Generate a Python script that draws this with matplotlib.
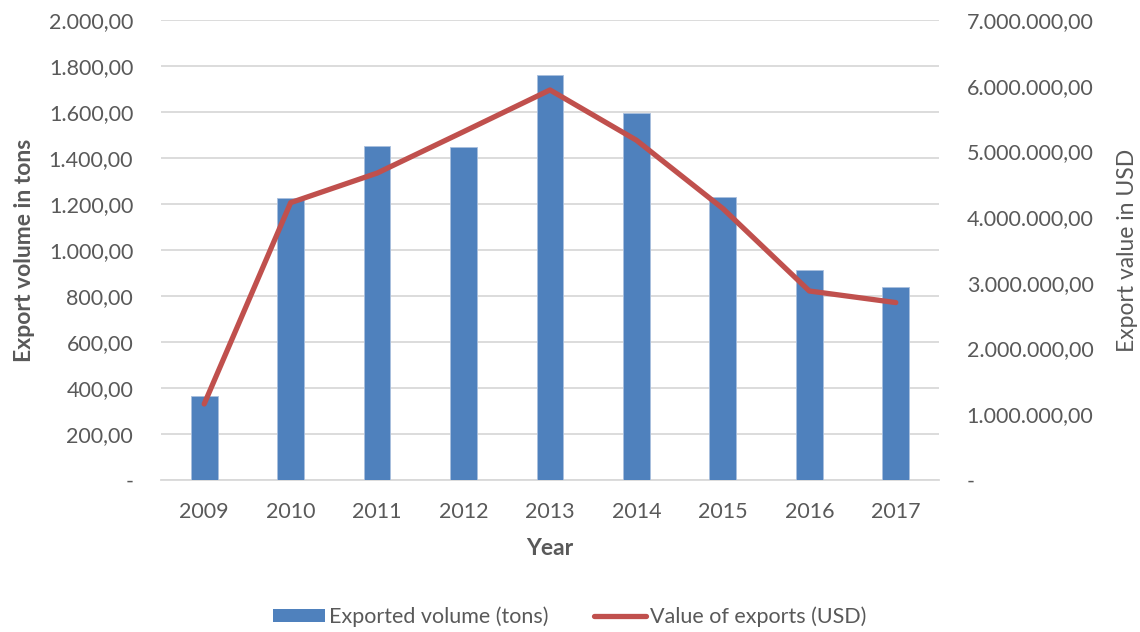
import matplotlib
matplotlib.use("Agg")
import matplotlib.pyplot as plt
from matplotlib.ticker import FuncFormatter, MultipleLocator
from matplotlib.patches import Patch
from matplotlib.lines import Line2D

years = ["2009", "2010", "2011", "2012", "2013", "2014", "2015", "2016", "2017"]
volume_tons = [366, 1227, 1452, 1449, 1762, 1594, 1232, 914, 839]
value_usd = [1157000, 4220000, 4670000, 5300000, 5935000, 5170000, 4130000, 2876000, 2700000]

plt.rcParams['font.family'] = ['Lato', 'DejaVu Sans']
TXT = "#595959"
BLUE = "#4F81BD"
RED = "#C0504D"
GRID = "#D9D9D9"
TICK_FS = 15.5
LAB_FS = 16.5

def fmt_de(v, pos=None):
    if abs(v) < 1e-9:
        return "-"
    s = f"{v:,.2f}"
    return s.replace(",", "X").replace(".", ",").replace("X", ".")

fig = plt.figure(figsize=(11.4, 6.32), dpi=100)
ax = fig.add_axes([0.1412, 0.2405, 0.8237 - 0.1412, 0.9684 - 0.2405])
ax2 = ax.twinx()

x = list(range(len(years)))
ax.bar(x, volume_tons, width=0.31, color=BLUE, zorder=3, edgecolor="#A9BFDE", linewidth=0.6)
ax2.plot(x, value_usd, color=RED, linewidth=3.8, solid_capstyle="round", solid_joinstyle="round", zorder=4)

ax.set_xlim(-0.5, len(years) - 0.5)
ax.set_ylim(0, 2000)
ax2.set_ylim(0, 7000000)
ax.yaxis.set_major_locator(MultipleLocator(200))
ax2.yaxis.set_major_locator(MultipleLocator(1000000))
ax.yaxis.set_major_formatter(FuncFormatter(fmt_de))
ax2.yaxis.set_major_formatter(FuncFormatter(fmt_de))
ax.set_xticks(x)
ax.set_xticklabels(years)

ax.grid(axis="y", color=GRID, linewidth=1.3, zorder=0)
ax.set_axisbelow(True)
for a in (ax, ax2):
    for s in a.spines.values():
        s.set_visible(False)
    a.tick_params(length=0, colors=TXT, labelsize=TICK_FS)
ax.spines["bottom"].set_visible(True)
ax.spines["bottom"].set_color(GRID)
ax.spines["bottom"].set_linewidth(1.3)
ax.tick_params(axis="y", pad=20)
ax.tick_params(axis="x", pad=16)
ax2.tick_params(axis="y", pad=20)

ax.set_ylabel("Export volume in tons", fontsize=LAB_FS, fontweight="bold", color=TXT, labelpad=10)
ax.set_xlabel("Year", fontsize=LAB_FS, fontweight="bold", color=TXT, labelpad=11)
ax2.set_ylabel("Export value in USD", fontsize=LAB_FS, color=TXT, labelpad=17)

handles = [Patch(facecolor=BLUE, edgecolor="none"),
           Line2D([0], [0], color=RED, linewidth=3.8, solid_capstyle="round")]
fig.legend(handles, ["Exported volume (tons)", "Value of exports (USD)"],
           loc="center", bbox_to_anchor=(0.5, 0.024), ncol=2, frameon=False,
           fontsize=TICK_FS, labelcolor=TXT, handlelength=2.4, handleheight=0.5,
           handletextpad=0.2, columnspacing=2.1)

fig.savefig("out.png", dpi=100)
